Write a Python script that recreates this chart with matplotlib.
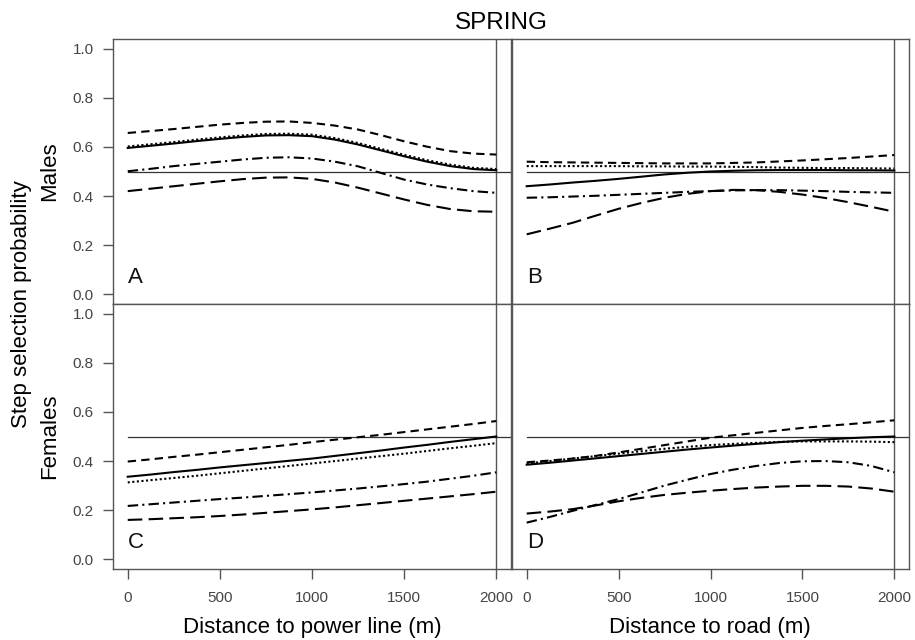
import matplotlib
matplotlib.use("Agg")
import matplotlib.pyplot as plt

plt.rcParams['font.family'] = ['Liberation Sans', 'DejaVu Sans']

# ---- data ----
distance = [0, 125, 250, 375, 500, 625, 750, 875, 1000,
            1125, 1250, 1375, 1500, 1625, 1750, 1875, 2000]

# Panel A: Males, distance to power line
A_solid     = [0.596, 0.605, 0.614, 0.624, 0.633, 0.641, 0.647, 0.648, 0.644,
               0.630, 0.610, 0.586, 0.562, 0.540, 0.522, 0.510, 0.505]
A_dotted    = [0.602, 0.611, 0.620, 0.630, 0.639, 0.647, 0.653, 0.654, 0.650,
               0.636, 0.616, 0.592, 0.568, 0.546, 0.528, 0.515, 0.510]
A_shortdash = [0.657, 0.665, 0.673, 0.682, 0.691, 0.698, 0.703, 0.704, 0.698,
               0.687, 0.671, 0.648, 0.623, 0.601, 0.583, 0.573, 0.569]
A_dashdot   = [0.501, 0.511, 0.522, 0.531, 0.540, 0.549, 0.556, 0.558, 0.553,
               0.540, 0.521, 0.494, 0.467, 0.447, 0.432, 0.420, 0.413]
A_longdash  = [0.420, 0.430, 0.440, 0.450, 0.460, 0.469, 0.475, 0.476, 0.470,
               0.455, 0.434, 0.410, 0.386, 0.364, 0.347, 0.338, 0.336]

# Panel B: Males, distance to road
B_solid     = [0.440, 0.447, 0.455, 0.462, 0.470, 0.479, 0.488, 0.495, 0.500,
               0.503, 0.505, 0.506, 0.506, 0.506, 0.505, 0.505, 0.504]
B_dotted    = [0.522, 0.522, 0.522, 0.522, 0.522, 0.521, 0.521, 0.520, 0.520,
               0.519, 0.518, 0.516, 0.515, 0.514, 0.514, 0.513, 0.512]
B_shortdash = [0.540, 0.538, 0.537, 0.536, 0.535, 0.534, 0.533, 0.533, 0.533,
               0.535, 0.537, 0.541, 0.545, 0.550, 0.555, 0.561, 0.567]
B_dashdot   = [0.393, 0.395, 0.398, 0.401, 0.405, 0.409, 0.413, 0.417, 0.420,
               0.423, 0.424, 0.424, 0.422, 0.420, 0.417, 0.415, 0.413]
B_longdash  = [0.244, 0.267, 0.291, 0.320, 0.348, 0.372, 0.393, 0.409, 0.420,
               0.425, 0.424, 0.417, 0.406, 0.392, 0.375, 0.356, 0.336]

# Panel C: Females, distance to power line
C_solid     = [0.336, 0.345, 0.355, 0.364, 0.374, 0.383, 0.392, 0.401, 0.410,
               0.421, 0.432, 0.443, 0.455, 0.466, 0.478, 0.489, 0.500]
C_dotted    = [0.313, 0.322, 0.331, 0.340, 0.350, 0.360, 0.370, 0.380, 0.390,
               0.400, 0.410, 0.420, 0.430, 0.441, 0.452, 0.462, 0.473]
C_shortdash = [0.398, 0.407, 0.417, 0.426, 0.436, 0.446, 0.456, 0.466, 0.477,
               0.487, 0.497, 0.507, 0.518, 0.529, 0.540, 0.551, 0.563]
C_dashdot   = [0.217, 0.224, 0.231, 0.238, 0.245, 0.251, 0.258, 0.265, 0.272,
               0.280, 0.288, 0.297, 0.306, 0.316, 0.328, 0.340, 0.354]
C_longdash  = [0.160, 0.163, 0.167, 0.171, 0.176, 0.182, 0.189, 0.196, 0.203,
               0.211, 0.220, 0.229, 0.238, 0.247, 0.256, 0.265, 0.275]

# Panel D: Females, distance to road
D_solid     = [0.385, 0.393, 0.402, 0.411, 0.420, 0.429, 0.438, 0.447, 0.455,
               0.463, 0.470, 0.477, 0.483, 0.488, 0.493, 0.497, 0.500]
D_dotted    = [0.390, 0.400, 0.410, 0.420, 0.430, 0.440, 0.450, 0.458, 0.465,
               0.470, 0.474, 0.478, 0.480, 0.480, 0.480, 0.479, 0.477]
D_shortdash = [0.395, 0.402, 0.410, 0.421, 0.435, 0.450, 0.465, 0.480, 0.495,
               0.505, 0.515, 0.525, 0.535, 0.543, 0.550, 0.558, 0.566]
D_dashdot   = [0.149, 0.172, 0.197, 0.221, 0.245, 0.272, 0.300, 0.324, 0.347,
               0.365, 0.380, 0.392, 0.399, 0.400, 0.395, 0.380, 0.354]
D_longdash  = [0.186, 0.194, 0.204, 0.219, 0.236, 0.250, 0.262, 0.271, 0.279,
               0.286, 0.292, 0.296, 0.299, 0.299, 0.296, 0.288, 0.275]

panel_letters = ["A", "B", "C", "D"]
x_ticks = [0, 500, 1000, 1500, 2000]
y_ticks = [0.0, 0.2, 0.4, 0.6, 0.8, 1.0]
y_ticklabels = ["0.0", "0.2", "0.4", "0.6", "0.8", "1.0"]

panels = {
    "A": [A_solid, A_dotted, A_shortdash, A_dashdot, A_longdash],
    "B": [B_solid, B_dotted, B_shortdash, B_dashdot, B_longdash],
    "C": [C_solid, C_dotted, C_shortdash, C_dashdot, C_longdash],
    "D": [D_solid, D_dotted, D_shortdash, D_dashdot, D_longdash],
}

styles = ['-', (0, (1, 1.2)), (0, (4, 2.5)), (0, (5, 2, 1, 2)), (0, (7, 3))]

W, H = 915, 640
fig = plt.figure(figsize=(W / 100, H / 100), dpi=100)

def rect(l, t, r, b):
    return [l / W, 1 - b / H, (r - l) / W, (b - t) / H]

rects = {
    "A": rect(113, 39, 511, 304),
    "B": rect(512, 39, 909, 304),
    "C": rect(113, 304, 511, 569),
    "D": rect(512, 304, 909, 569),
}

grey = '#555555'
for key in panel_letters:
    ax = fig.add_axes(rects[key])
    ax.set_xlim(-80, 2080)
    ax.set_ylim(-0.04, 1.04)
    for s in ax.spines.values():
        s.set_color(grey)
        s.set_linewidth(1.0)
    ax.axvline(2000, color=grey, lw=1.0, zorder=1)
    ax.plot([0, 2080], [0.5, 0.5], color='#333333', lw=0.9, zorder=1)
    for vals, ls in zip(panels[key], styles):
        ax.plot(distance, vals, color='black', lw=1.5, linestyle=ls, zorder=3)
    ax.text(0, 0.07, key, fontsize=16, ha='left', va='center', color='#111111')
    ax.tick_params(direction='out', length=7, width=1, color=grey,
                   labelcolor='#444444', labelsize=11)
    if key in ("C", "D"):
        ax.set_xticks(x_ticks)
        ax.tick_params(axis='x', pad=9)
    else:
        ax.set_xticks([])
    if key in ("A", "C"):
        ax.set_yticks(y_ticks)
        ax.set_yticklabels(y_ticklabels)
        ax.tick_params(axis='y', pad=7)
    else:
        ax.set_yticks([])

fig.text(501 / W, 1 - 23 / H, "SPRING", fontsize=17.5, ha='center', va='center')
fig.text(312 / W, 1 - 627 / H, "Distance to power line (m)", fontsize=16, ha='center', va='center')
fig.text(710 / W, 1 - 627 / H, "Distance to road (m)", fontsize=16, ha='center', va='center')
fig.text(22 / W, 1 - 304 / H, "Step selection probability", fontsize=16, rotation=90,
         ha='center', va='center')
fig.text(50 / W, 1 - 171 / H, "Males", fontsize=16, rotation=90, ha='center', va='center')
fig.text(50 / W, 1 - 436 / H, "Females", fontsize=16, rotation=90, ha='center', va='center')

fig.savefig("out.png", dpi=100)
